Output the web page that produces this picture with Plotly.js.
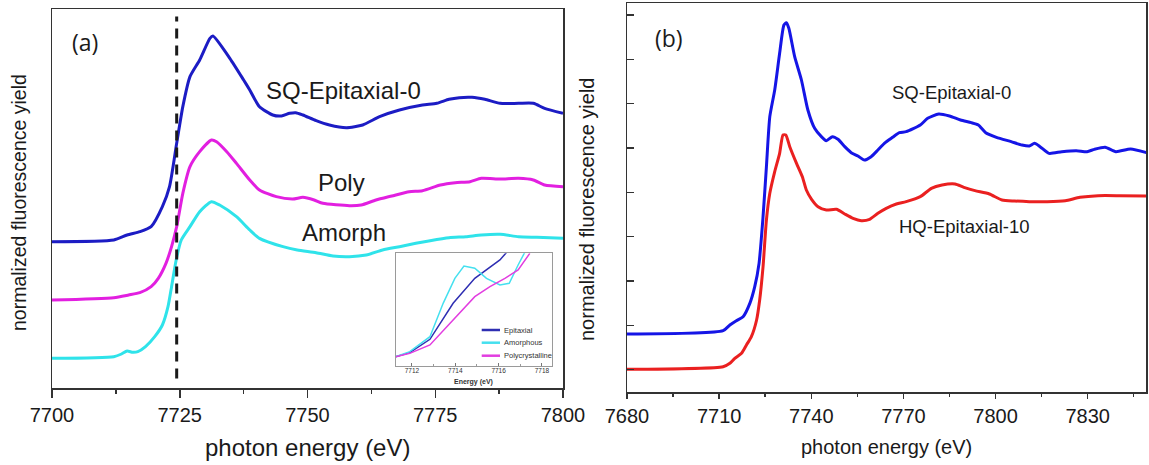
<!DOCTYPE html>
<html>
<head>
<meta charset="utf-8">
<script src="https://cdn.plot.ly/plotly-3.0.1.min.js"></script>
<style>
  html, body { margin: 0; padding: 0; background: #fff; }
  #chart { width: 1149px; height: 465px; }
</style>
</head>
<body>
<div id="chart"></div>
<script>
// ---- Panel (a): Ga K-edge XANES of the three films (arbitrary units, stacked) ----
const aEnergyEpi = [7700, 7712.1, 7714.7, 7717.2, 7719.4, 7721.6, 7723, 7724.4, 7725.6, 7727, 7728.9, 7730.9, 7731.5,
  7734.8, 7737.5, 7738.7, 7740.6, 7743.2, 7744.9, 7746.5, 7747.7, 7749.1, 7751.7, 7754.3, 7757.6, 7760.8, 7764.1,
  7768, 7772.5, 7775.3, 7777.7, 7779.7, 7782.2, 7784.7, 7787.7, 7791.3, 7794.2, 7796.4, 7800];
const aYieldEpi = [439, 444, 459, 469, 484, 544, 604, 734, 844, 934, 984, 1049, 1056,
  989, 924, 894, 844, 819, 816, 824, 826, 819, 802, 789, 781, 789, 814,
  834, 849, 854, 866, 871, 872, 866, 854, 854, 854, 839, 824];

const aEnergyPoly = [7700, 7712.1, 7715, 7717.2, 7719.4, 7720.8, 7722.3, 7723.4, 7724.4, 7725.6, 7727, 7728.9, 7731.2,
  7732.2, 7734.2, 7736.1, 7738.7, 7740.6, 7743.9, 7747.1, 7749.1, 7751.3, 7753, 7758.2, 7760.5, 7763.4, 7766.5,
  7769.9, 7772.5, 7776, 7778.9, 7781.8, 7784, 7787.7, 7791.3, 7794.2, 7796.4, 7800];
const aYieldPoly = [264, 271, 279, 286, 304, 329, 374, 424, 484, 584, 664, 709, 744,
  739, 709, 674, 624, 594, 574, 567, 572, 564, 554, 547, 549, 564, 576,
  589, 592, 609, 616, 619, 629, 627, 629, 624, 609, 604];

const aEnergyAmorph = [7700, 7712.1, 7713.6, 7714.7, 7715.8, 7716.8, 7718.3, 7720.1, 7721.6, 7722.7, 7723.4, 7724.3,
  7725.3, 7727, 7728.9, 7731.2, 7732.8, 7736.1, 7738.7, 7740.6, 7745.2, 7748, 7751.7, 7755, 7758.2, 7761.5,
  7764.7, 7768, 7771.2, 7774, 7777.7, 7781, 7784, 7787.7, 7791.3, 7794.9, 7800];
const aYieldAmorph = [89, 94, 102, 111, 107, 109, 124, 154, 189, 244, 304, 384,
  444, 484, 529, 559, 549, 514, 474, 449, 424, 414, 406, 396, 394, 399,
  414, 424, 434, 442, 451, 454, 459, 461, 454, 452, 449];

// energy of the marked pre-edge position
const edgeEnergy = 7724.4;

// ---- Inset: pre-edge region, 7711-7718 eV ----
const insetEnergyEpi = [7711.25, 7711.9, 7712.83, 7713.9, 7714.9, 7715.44, 7716.06, 7716.37];
const insetYieldEpi  = [28, 40, 80, 188, 263, 288, 318, 341];
const insetEnergyAmorph = [7711.25, 7711.9, 7712.83, 7713.44, 7713.98, 7714.4, 7714.9, 7715.44, 7716.06, 7716.49, 7716.9, 7717.2];
const insetYieldAmorph  = [28, 43, 88, 188, 263, 300, 293, 263, 243, 248, 303, 340];
const insetEnergyPoly = [7711.25, 7711.9, 7712.83, 7713.9, 7714.9, 7715.6, 7716.29, 7716.9, 7717.44];
const insetYieldPoly  = [28, 38, 63, 138, 208, 238, 263, 288, 338];
const insetNames = ['Epitaxial', 'Amorphous', 'Polycrystalline'];

// ---- Panel (b): SQ vs HQ epitaxial films ----
const bEnergySQ = [7680, 7711.3, 7713.5, 7715.6, 7717.8, 7720, 7721.6, 7723, 7724.3, 7725.4, 7726.5, 7728.1, 7729.7,
  7731.1, 7731.9, 7732.7, 7734.6, 7736.8, 7738.9, 7741.1, 7743.3, 7744.9, 7746.9, 7748.7, 7750.9, 7753, 7755.2,
  7757.3, 7759.5, 7761.7, 7763.8, 7766.5, 7768.7, 7770.9, 7775.5, 7777.9, 7781.5, 7785, 7788.6, 7792.1, 7794.4,
  7796.8, 7800.3, 7805.1, 7808.6, 7811, 7812.7, 7814.5, 7817.4, 7821.6, 7826.3, 7829.8, 7832.2, 7835.7, 7839.2,
  7844, 7849.2];
const bYieldSQ = [174, 184, 201, 214, 226, 266, 316, 386, 526, 676, 826, 906, 1016,
  1101, 1108, 1091, 1006, 936, 846, 791, 766, 754, 766, 758, 736, 718, 708,
  696, 706, 726, 746, 764, 778, 781, 801, 821, 834, 828, 816, 808, 801,
  778, 764, 751, 741, 738, 746, 736, 716, 721, 724, 721, 728, 734, 721,
  729, 718];

const bEnergyHQ = [7680, 7711.3, 7713.5, 7715.1, 7717.3, 7718.9, 7720.5, 7722.2, 7723.2, 7724.3, 7725.4, 7726.5, 7728.1,
  7729.7, 7730.8, 7731.7, 7733, 7735.2, 7737.1, 7738.4, 7740.1, 7742.2, 7744.9, 7748.2, 7750.9, 7753.6, 7756.3,
  7759, 7761.7, 7764.4, 7767.7, 7770.9, 7775.5, 7779.1, 7782.6, 7786.8, 7789.7, 7793.3, 7798, 7802.1, 7806.2,
  7811, 7816.8, 7822.7, 7827.5, 7833.4, 7840.4, 7849.2];
const bYieldHQ = [68, 76, 86, 101, 116, 141, 166, 216, 276, 376, 516, 596, 661,
  716, 771, 771, 736, 686, 646, 606, 578, 556, 546, 548, 534, 521, 514,
  518, 536, 551, 564, 571, 586, 611, 621, 624, 614, 604, 594, 576, 573,
  571, 571, 574, 584, 589, 589, 588];

// ---- styling ----
const axisColor = '#333333';
const textColor = '#1a1a1a';
const sans = 'Liberation Sans, Arial, sans-serif';
const col = {
  epiA: '#1c1cc4', polyA: '#e21fe0', amorphA: '#2fe3ea',
  epiIn: '#2e2eb2', amorphIn: '#45e0ef', polyIn: '#e23ee0',
  sqB: '#1515e6', hqB: '#ea2020'
};

function line(x, y, color, width, xa, ya, name) {
  return { x: x, y: y, type: 'scatter', mode: 'lines', name: name || '',
    line: { color: color, width: width, shape: 'spline', smoothing: 0.6 },
    xaxis: xa, yaxis: ya, showlegend: false, hoverinfo: 'skip' };
}

const traces = [
  line(aEnergyEpi, aYieldEpi, col.epiA, 3, 'x', 'y'),
  line(aEnergyPoly, aYieldPoly, col.polyA, 3, 'x', 'y'),
  line(aEnergyAmorph, aYieldAmorph, col.amorphA, 3, 'x', 'y'),
  line(insetEnergyEpi, insetYieldEpi, col.epiIn, 1.5, 'x3', 'y3', insetNames[0]),
  line(insetEnergyAmorph, insetYieldAmorph, col.amorphIn, 1.5, 'x3', 'y3', insetNames[1]),
  line(insetEnergyPoly, insetYieldPoly, col.polyIn, 1.5, 'x3', 'y3', insetNames[2]),
  line(bEnergySQ, bYieldSQ, col.sqB, 3, 'x2', 'y2'),
  line(bEnergyHQ, bYieldHQ, col.hqB, 3, 'x2', 'y2')
];
// inset traces are straight segments
[3, 4, 5].forEach(i => { traces[i].line.shape = 'linear'; });

const W = 1149, H = 465;
const px = v => v / W;          // horizontal pixel -> paper
const py = v => (H - v) / H;    // vertical pixel -> paper

const baseAxis = {
  showline: true, linecolor: axisColor, linewidth: 1.5, mirror: true,
  showgrid: false, zeroline: false, tickcolor: axisColor, tickwidth: 1.5,
  tickfont: { family: sans, size: 20, color: textColor }
};

const layout = {
  width: W, height: H,
  margin: { l: 0, r: 0, t: 0, b: 0 },
  paper_bgcolor: '#ffffff', plot_bgcolor: '#ffffff',
  showlegend: false,
  xaxis: Object.assign({}, baseAxis, {
    domain: [px(52), px(563)], range: [7700, 7800], anchor: 'y',
    tick0: 7700, dtick: 25, ticks: 'outside', ticklen: 8,
    minor: { dtick: 12.5, ticks: 'outside', ticklen: 4, tickcolor: axisColor, tickwidth: 1.5, showgrid: false }
  }),
  yaxis: Object.assign({}, baseAxis, {
    domain: [py(388), py(9)], range: [0, 1137], anchor: 'x',
    ticks: '', showticklabels: false
  }),
  xaxis2: Object.assign({}, baseAxis, {
    domain: [px(627), px(1146)], range: [7680, 7849], anchor: 'y2',
    tick0: 7680, dtick: 30, ticks: 'outside', ticklen: 5,
    minor: { dtick: 15, ticks: 'outside', ticklen: 3, tickcolor: axisColor, tickwidth: 1.5, showgrid: false }
  }),
  yaxis2: Object.assign({}, baseAxis, {
    domain: [py(392), py(3)], range: [0, 1167], anchor: 'x2',
    tick0: 200, dtick: 133, ticks: 'inside', ticklen: 7, showticklabels: false
  }),
  xaxis3: {
    domain: [px(395.7), px(551.7)], range: [7711.25, 7718.45], anchor: 'y3',
    showline: true, linecolor: '#9a9a9a', linewidth: 1, mirror: true,
    showgrid: false, zeroline: false,
    tick0: 7712, dtick: 2, ticks: 'inside', ticklen: 3, tickcolor: '#777', tickwidth: 1,
    minor: { dtick: 1, ticks: 'inside', ticklen: 2, tickcolor: '#999', showgrid: false },
    ticklabelstandoff: -2,
    tickfont: { family: sans, size: 6.5, color: '#333' }
  },
  yaxis3: {
    domain: [py(366), py(253.3)], range: [0, 338], anchor: 'x3',
    showline: true, linecolor: '#9a9a9a', linewidth: 1, mirror: true,
    showgrid: false, zeroline: false, ticks: '', showticklabels: false
  },
  shapes: [
    { type: 'line', xref: 'x', yref: 'y domain', x0: edgeEnergy, x1: edgeEnergy,
      y0: 0.025, y1: 0.98, line: { color: '#1a1a1a', width: 3, dash: '10px,7px' } }
  ],
  annotations: []
};

// inset legend keys
const legendColors = [col.epiIn, col.amorphIn, col.polyIn];
const legendRows = [330, 342.7, 355.7];
insetNames.forEach((name, i) => {
  layout.shapes.push({ type: 'line', xref: 'paper', yref: 'paper',
    x0: px(481.7), x1: px(500), y0: py(legendRows[i]), y1: py(legendRows[i]),
    line: { color: legendColors[i], width: 2.5 } });
  layout.annotations.push({ xref: 'paper', yref: 'paper', x: px(502), y: py(legendRows[i]),
    xanchor: 'left', yanchor: 'middle', showarrow: false, text: name,
    font: { family: sans, size: 7.5, color: '#333' } });
});

function note(text, xref, yref, x, y, size, extra) {
  layout.annotations.push(Object.assign({ text: text, xref: xref, yref: yref, x: x, y: y,
    xanchor: 'center', yanchor: 'middle', showarrow: false,
    font: { family: sans, size: size, color: textColor } }, extra || {}));
}

// curve labels and panel tags
note('SQ-Epitaxial-0', 'x', 'y', 7757.1, 894, 24);
note('Poly', 'x', 'y', 7756.6, 618, 24);
note('Amorph', 'x', 'y', 7757.2, 468, 24);
note('(a)', 'x', 'y', 7706.4, 1038, 23, { font: { family: 'Open Sans, sans-serif', size: 23, color: textColor } });
note('SQ-Epitaxial-0', 'x2', 'y2', 7785.6, 900, 18.5);
note('HQ-Epitaxial-10', 'x2', 'y2', 7789.8, 498, 18.5);
note('(b)', 'x2', 'y2', 7693.6, 1062, 23, { font: { family: 'Open Sans, sans-serif', size: 23, color: textColor } });

// axis titles
note('photon energy (eV)', 'paper', 'paper', px(307), py(447), 24);
note('photon energy (eV)', 'paper', 'paper', px(886), py(447), 20);
note('normalized fluorescence yield', 'paper', 'paper', px(19), py(203), 19.5, { textangle: -90 });
note('normalized fluorescence yield', 'paper', 'paper', px(587), py(210), 20, { textangle: -90 });
note('<b>Energy (eV)</b>', 'paper', 'paper', px(473.7), py(381.5), 7, { font: { family: sans, size: 7, color: '#333' } });

Plotly.newPlot('chart', traces, layout, { staticPlot: true, displayModeBar: false });
</script>
</body>
</html>
